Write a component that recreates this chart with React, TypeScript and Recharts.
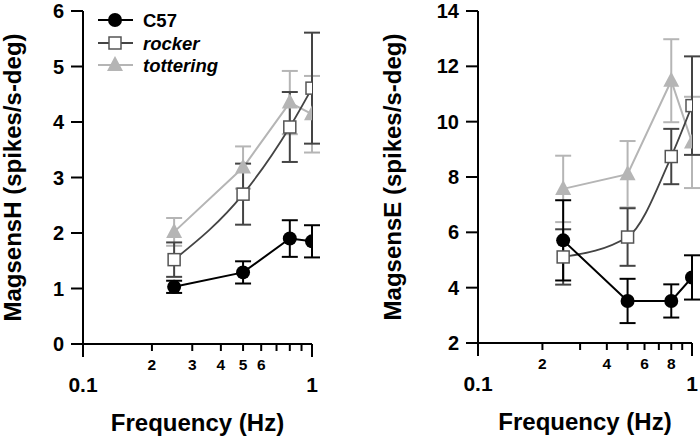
import React from 'react';
import { LineChart, Line, XAxis, YAxis, ErrorBar } from 'recharts';

// frequency (Hz) of the stimuli
const freqs = [0.25, 0.5, 0.8, 1.0];

const seriesNames = ['C57', 'rocker', 'tottering'];

// MagsensH panel
const c57H = [1.03, 1.29, 1.9, 1.85];
const c57HErr = [0.11, 0.2, 0.33, 0.29];
const rockerH = [1.52, 2.7, 3.91, 4.61];
const rockerHErr = [0.31, 0.55, 0.63, 1.0];
const totteringH = [2.02, 3.18, 4.35, 4.14];
const totteringHErr = [0.25, 0.38, 0.57, 0.69];

// MagsensE panel
const c57E = [5.71, 3.52, 3.52, 4.37];
const c57EErr = [1.45, 0.8, 0.6, 0.8];
const rockerE = [5.11, 5.83, 8.74, 10.58];
const rockerEErr = [1.0, 1.04, 1.0, 1.78];
const totteringE = [7.57, 8.1, 11.48, 9.25];
const totteringEErr = [1.2, 1.2, 1.5, 1.65];

const xTicks = [0.1, 0.2, 0.3, 0.4, 0.5, 0.6, 0.7, 0.8, 0.9, 1];
const xLabelsH = [2, 3, 4, 5, 6];
const xLabelsE = [2, 4, 6, 8];
const yTicksH = [0, 1, 2, 3, 4, 5, 6];
const yTicksE = [2, 4, 6, 8, 10, 12, 14];

const FONT = '"Liberation Sans", Arial, sans-serif';
const C57_COLOR = '#000000';
const ROCKER_COLOR = '#444444';
const TOTTERING_COLOR = '#b5b5b5';

const buildRows = (
  c57: number[], c57Err: number[],
  rocker: number[], rockerErr: number[],
  tot: number[], totErr: number[]
) =>
  freqs.map((f, i) => ({
    f,
    c57: c57[i], c57Err: c57Err[i],
    rocker: rocker[i], rockerErr: rockerErr[i],
    tot: tot[i], totErr: totErr[i],
  }));

const dataH = buildRows(c57H, c57HErr, rockerH, rockerHErr, totteringH, totteringHErr);
const dataE = buildRows(c57E, c57EErr, rockerE, rockerEErr, totteringE, totteringEErr);

const CircleDot = (props: any) => {
  const { cx, cy, index } = props;
  if (cx == null || cy == null) return <g key={`c-${index}`} />;
  return <circle key={`c-${index}`} cx={cx} cy={cy} r={7} fill={C57_COLOR} />;
};

const SquareDot = (props: any) => {
  const { cx, cy, index } = props;
  if (cx == null || cy == null) return <g key={`s-${index}`} />;
  return (
    <rect key={`s-${index}`} x={cx - 6} y={cy - 6} width={12} height={12}
      fill="#fff" stroke="#555" strokeWidth={1.5} />
  );
};

const TriangleDot = (props: any) => {
  const { cx, cy, index } = props;
  if (cx == null || cy == null) return <g key={`t-${index}`} />;
  return (
    <polygon key={`t-${index}`}
      points={`${cx},${cy - 9} ${cx - 8},${cy + 6} ${cx + 8},${cy + 6}`}
      fill={TOTTERING_COLOR} />
  );
};

const makeXTick = (labels: number[]) => (props: any) => {
  const { x, y, payload } = props;
  const v = payload.value;
  const major = Math.abs(v - 0.1) < 1e-6 || Math.abs(v - 1) < 1e-6;
  const n = Math.round(v * 10);
  return (
    <g>
      <line x1={x} y1={y} x2={x} y2={y + (major ? 13 : 7)} stroke="#000" strokeWidth={2} />
      {major ? (
        <text x={x} y={y + 40} textAnchor="middle" dominantBaseline="central"
          fontSize={21} fontWeight="bold" fontFamily={FONT} fill="#000">
          {v === 1 ? '1' : '0.1'}
        </text>
      ) : labels.includes(n) ? (
        <text x={x} y={y + 20} textAnchor="middle" dominantBaseline="central"
          fontSize={15.5} fontWeight="bold" fontFamily={FONT} fill="#000">
          {n}
        </text>
      ) : null}
    </g>
  );
};

const yTitle = (text: string, dx: number) => (props: any) => {
  const vb = props.viewBox;
  const cx = vb.x + dx;
  const cy = vb.y + vb.height / 2;
  return (
    <text x={cx} y={cy} transform={`rotate(-90, ${cx}, ${cy})`} textAnchor="middle"
      dominantBaseline="central" fontSize={24} fontWeight="bold" fontFamily={FONT} fill="#000">
      {text}
    </text>
  );
};

const xTitle = (props: any) => {
  const vb = props.viewBox;
  return (
    <text x={vb.x + vb.width / 2} y={vb.y + 78} textAnchor="middle" dominantBaseline="central"
      fontSize={24} fontWeight="bold" fontFamily={FONT} fill="#000">
      Frequency (Hz)
    </text>
  );
};

interface PanelProps {
  data: any[];
  yDomain: [number, number];
  yTicks: number[];
  xLabels: number[];
  title: string;
  yAxisWidth: number;
  titleDx: number;
  marginRight: number;
  marginBottom: number;
}

const Panel: React.FC<PanelProps> = ({
  data, yDomain, yTicks, xLabels, title, yAxisWidth, titleDx, marginRight, marginBottom,
}) => (
  <LineChart width={350} height={436} data={data}
    margin={{ top: 11, right: marginRight, bottom: marginBottom, left: 0 }}>
    <XAxis dataKey="f" type="number" scale="log" domain={[0.1, 1]} ticks={xTicks}
      allowDataOverflow interval={0} height={80} tickLine={false} tickSize={0} tickMargin={0}
      axisLine={{ stroke: '#000', strokeWidth: 2 }} tick={makeXTick(xLabels)} label={xTitle} />
    <YAxis type="number" domain={yDomain} ticks={yTicks} interval={0} width={yAxisWidth}
      tickSize={12} tickMargin={7}
      axisLine={{ stroke: '#000', strokeWidth: 2 }} tickLine={{ stroke: '#000', strokeWidth: 2 }}
      tick={{ fontSize: 20, fontWeight: 'bold', fontFamily: FONT, fill: '#000' }}
      label={yTitle(title, titleDx)} />
    <Line dataKey="tot" stroke={TOTTERING_COLOR} strokeWidth={2} dot={TriangleDot}
      activeDot={false} isAnimationActive={false}>
      <ErrorBar dataKey="totErr" direction="y" width={8} stroke={TOTTERING_COLOR} strokeWidth={2} />
    </Line>
    <Line dataKey="rocker" type="monotone" stroke={ROCKER_COLOR} strokeWidth={1.8} dot={SquareDot}
      activeDot={false} isAnimationActive={false}>
      <ErrorBar dataKey="rockerErr" direction="y" width={8} stroke={ROCKER_COLOR} strokeWidth={2} />
    </Line>
    <Line dataKey="c57" stroke={C57_COLOR} strokeWidth={2} dot={CircleDot}
      activeDot={false} isAnimationActive={false}>
      <ErrorBar dataKey="c57Err" direction="y" width={8} stroke={C57_COLOR} strokeWidth={2} />
    </Line>
  </LineChart>
);

const Legend: React.FC = () => {
  const rows = [20, 43, 65];
  return (
    <svg width={350} height={90} style={{ position: 'absolute', left: 0, top: 0 }}>
      {seriesNames.map((name, i) => {
        const y = rows[i];
        const color = i === 0 ? C57_COLOR : i === 1 ? ROCKER_COLOR : TOTTERING_COLOR;
        return (
          <g key={name}>
            <line x1={98} x2={133} y1={y} y2={y} stroke={color} strokeWidth={2} />
            {i === 0 && <CircleDot cx={115} cy={y} index={0} />}
            {i === 1 && <SquareDot cx={115} cy={y} index={1} />}
            {i === 2 && <TriangleDot cx={115} cy={y} index={2} />}
            <text x={143} y={y} dominantBaseline="central" fontSize={18.5} fontWeight="bold"
              fontStyle={i === 0 ? 'normal' : 'italic'} fontFamily={FONT} fill="#000">
              {name}
            </text>
          </g>
        );
      })}
    </svg>
  );
};

const App: React.FC = () => (
  <div style={{ position: 'absolute', left: 0, top: 0, width: 700, height: 436, background: '#fff' }}>
    <div style={{ position: 'absolute', left: 0, top: 0 }}>
      <Panel data={dataH} yDomain={[0, 6]} yTicks={yTicksH} xLabels={xLabelsH}
        title="MagsensH (spikes/s-deg)" yAxisWidth={83} titleDx={12} marginRight={38} marginBottom={12} />
    </div>
    <Legend />
    <div style={{ position: 'absolute', left: 350, top: 0 }}>
      <Panel data={dataE} yDomain={[2, 14]} yTicks={yTicksE} xLabels={xLabelsE}
        title="MagsensE (spikes/s-deg)" yAxisWidth={128} titleDx={42} marginRight={8} marginBottom={13} />
    </div>
  </div>
);

export default App;
